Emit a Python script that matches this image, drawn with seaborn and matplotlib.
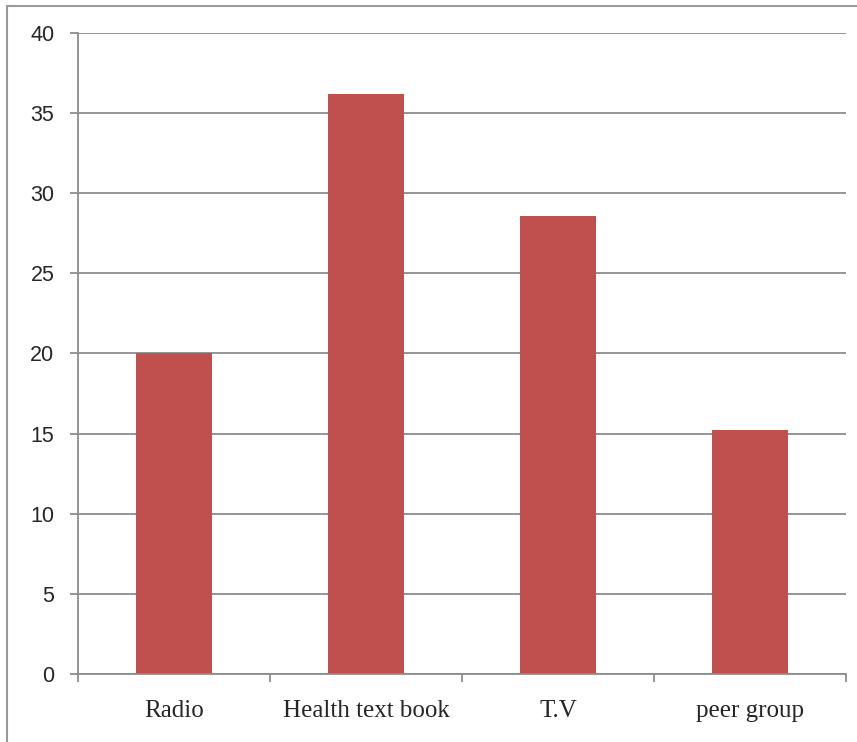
import matplotlib
matplotlib.use("Agg")
import matplotlib.pyplot as plt
import seaborn as sns
import pandas as pd
from matplotlib.lines import Line2D

categories = ["Radio", "Health text book", "T.V", "peer group"]
values = [20.0, 36.2, 28.6, 15.2]
yticks = [0, 5, 10, 15, 20, 25, 30, 35, 40]

df = pd.DataFrame({"source": categories, "value": values})

sns.set_style("white")
plt.rcParams['font.family'] = ['Liberation Sans', 'DejaVu Sans']

fig = plt.figure(figsize=(8.57, 7.42), dpi=100)
ax = fig.add_axes([78/857, 1 - 674/742, (846 - 78)/857, (674 - 33)/742])

sns.barplot(data=df, x="source", y="value", color="#C0504D", width=0.4,
            saturation=1, linewidth=0, ax=ax)

grid_c = "#8C8C8C"
ax.set_ylim(0, 40)
ax.set_xlim(-0.5, 3.5)
ax.set_yticks(yticks)
ax.set_yticklabels([str(t) for t in yticks])
ax.yaxis.grid(True, color=grid_c, linewidth=1.3)
ax.set_axisbelow(True)
ax.set_xlabel("")
ax.set_ylabel("")

for s in ["top", "right"]:
    ax.spines[s].set_visible(False)
for s in ["left", "bottom"]:
    ax.spines[s].set_color(grid_c)
    ax.spines[s].set_linewidth(1.3)

ax.tick_params(axis="y", which="major", length=6, width=1.3, color=grid_c,
               pad=11, labelsize=15.5, direction="out", left=True)
ax.set_xticks([-0.5, 0.5, 1.5, 2.5, 3.5], minor=True)
ax.tick_params(axis="x", which="minor", length=6, width=1.3, color=grid_c,
               direction="out", bottom=True)
ax.tick_params(axis="x", which="major", length=0, pad=19)
for lab in ax.get_xticklabels():
    lab.set_fontfamily(['Liberation Serif', 'DejaVu Serif'])
    lab.set_fontsize(18)

# outer frame (top and left edges visible)
fig.add_artist(Line2D([7/857, 7/857], [0, 1 - 6/742], transform=fig.transFigure,
                      color="#9A9A9A", linewidth=1.5))
fig.add_artist(Line2D([7/857, 1], [1 - 6/742, 1 - 6/742], transform=fig.transFigure,
                      color="#9A9A9A", linewidth=1.5))

fig.savefig("out.png", dpi=100)
